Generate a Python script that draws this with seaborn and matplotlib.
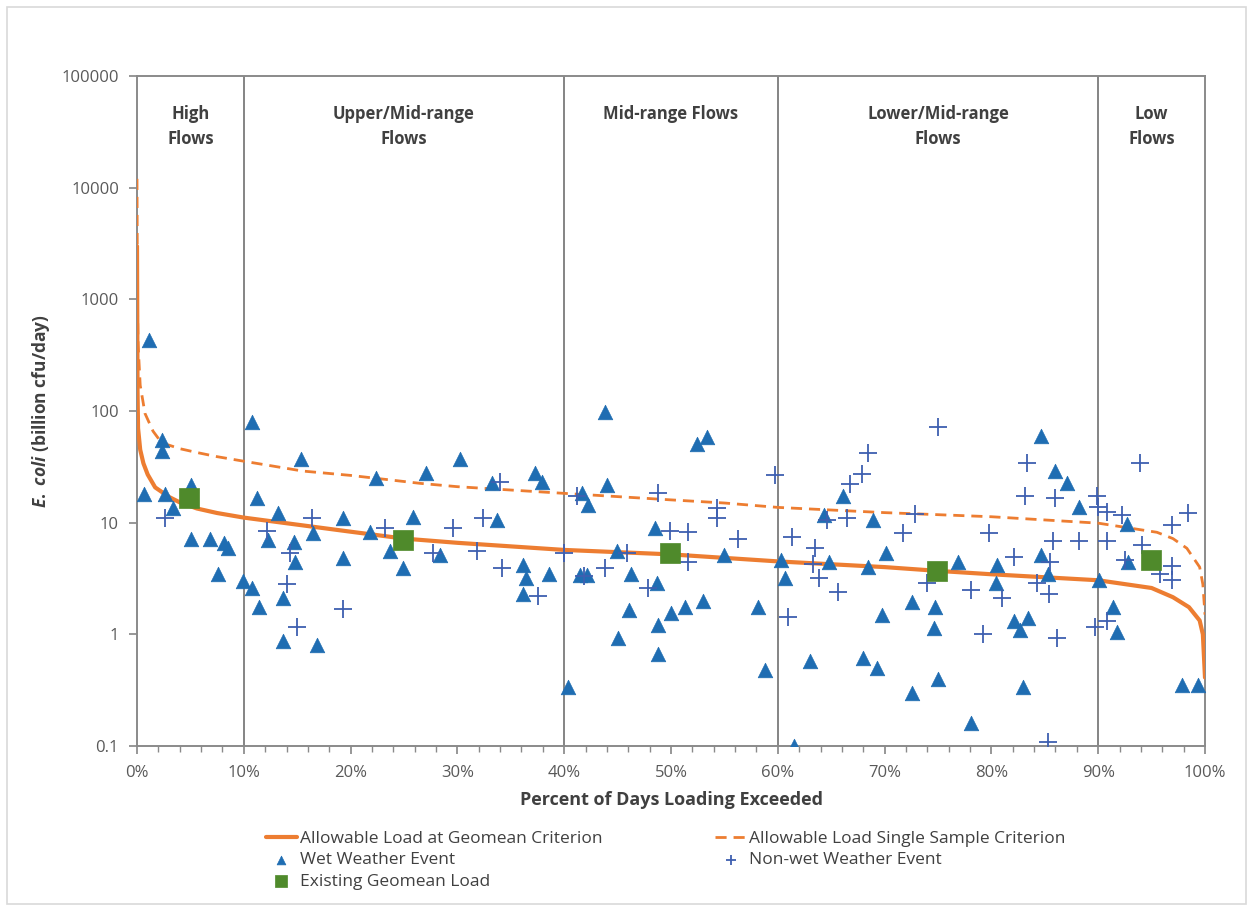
import numpy as np
import pandas as pd
import matplotlib
matplotlib.use("Agg")
import matplotlib.pyplot as plt
import seaborn as sns
from matplotlib.ticker import FixedLocator, FuncFormatter, MultipleLocator
from matplotlib.patches import Rectangle

# ---------------- data ----------------
curve_pct = [0.0, 0.05, 0.1, 0.3, 0.6, 1.0, 1.7, 3.0, 4.0, 5.6, 7.5, 10, 15, 20, 25, 30, 40, 50,
             60, 70, 75, 80, 90, 95, 97, 98.5, 99.5, 99.8, 100]
geomean_load = [3000, 150, 70, 45, 34, 27, 20.7, 17, 15.2, 13.4, 12.2, 11.1, 9.6, 8.3, 7.2, 6.6,
                5.7, 5.2, 4.5, 4.0, 3.7, 3.45, 3.05, 2.6, 2.15, 1.75, 1.33, 1.0, 0.41]
single_pct = [0.0, 0.05, 0.1, 0.3, 0.75, 1.5, 2.3, 4.0, 5.6, 7.5, 10, 15.5, 20, 26.5, 30, 40, 50,
              55, 60, 70, 80, 90, 95.5, 97, 98.3, 99.5, 99.8, 100]
single_load = [12000, 800, 400, 170, 95, 66, 52, 46, 42.5, 39, 35.5, 29, 26.5, 22.5, 21, 18.3, 16.0,
               15.0, 13.7, 12.3, 11.3, 9.9, 8.2, 7.2, 5.9, 4.0, 2.8, 1.5]

wet_pct = [1.1, 0.7, 2.3, 2.3, 2.6, 3.4, 5.1, 5.1, 6.8, 8.1, 8.5, 7.6, 9.9, 10.8, 11.4, 13.7,
           13.7, 16.9, 10.8, 11.2, 13.2, 12.3, 14.7, 14.8, 15.4, 16.5, 19.3, 19.3, 22.4, 21.8,
           23.7, 24.9, 25.8, 27.1,
           30.2, 28.4, 33.7, 33.2, 37.3, 37.9, 36.1, 36.4, 36.1, 38.6, 41.7, 42.2, 42.1, 41.5,
           43.8, 44.0, 44.9, 46.3, 40.4, 48.5, 48.7, 46.1, 45.0, 48.8, 48.8, 50.0, 51.3, 53.0,
           53.4, 52.4, 55.0,
           58.1, 58.8, 60.3, 60.7, 61.5, 63.0, 64.3, 64.8, 66.1, 68.4, 68.9, 68.0, 69.3, 69.8,
           70.1, 72.6, 72.6, 74.7, 74.6, 75.0, 76.9, 78.1, 80.5, 80.4,
           84.6, 86.0, 87.1, 88.2, 84.6, 85.3, 82.1, 83.4, 82.7, 83.0, 90.1, 91.4, 91.8, 92.7,
           92.8, 97.8, 99.3]
wet_val = [430, 18, 44, 55, 18, 13.5, 21.6, 7.2, 7.2, 6.6, 5.9, 3.5, 3.0, 2.6, 1.75, 2.1,
           0.88, 0.8, 79, 16.8, 12.1, 7.0, 6.7, 4.4, 37, 8.0, 11, 4.8, 25, 8.2,
           5.6, 3.9, 11.2, 27.6,
           37.5, 5.1, 10.5, 22.5, 28, 23, 4.2, 3.2, 2.3, 3.5, 18.3, 14.3, 3.4, 3.4,
           97, 21.6, 5.6, 3.5, 0.34, 8.9, 2.9, 1.64, 0.92, 1.2, 0.67, 1.54, 1.75, 2.0,
           58, 51, 5.1,
           1.75, 0.48, 4.6, 3.2, 0.1, 0.58, 11.6, 4.4, 17.5, 4.0, 10.5, 0.62, 0.5, 1.48,
           5.4, 1.93, 0.3, 1.75, 1.15, 0.4, 4.4, 0.16, 4.2, 2.9,
           60, 29, 22.5, 13.7, 5.1, 3.5, 1.33, 1.4, 1.1, 0.34, 3.05, 1.75, 1.05, 9.8,
           4.4, 0.35, 0.35]

dry_pct = [2.6, 12.2, 16.4, 14.3, 14.0, 15.0, 19.3, 23.2, 27.7,
           29.6, 32.4, 34.0, 31.8, 34.2, 37.5, 40.0, 41.2, 41.9, 43.8, 45.9, 48.8, 49.9, 51.6,
           51.6, 47.8, 54.3, 54.3,
           59.7, 56.3, 61.3, 61.0, 63.5, 63.3, 63.9, 64.6, 66.5, 65.6, 66.8, 67.9, 68.4, 71.7,
           72.8, 74.0, 75.0, 78.1, 79.2, 79.8,
           83.3, 83.1, 86.0, 85.8, 88.2, 82.1, 85.5, 84.3, 85.4, 81.0, 86.1, 85.3, 89.9, 90.0,
           90.8, 90.8, 92.2, 89.7, 90.8, 93.9, 94.1, 92.5, 96.9, 98.4, 95.8, 96.9, 96.9]
dry_val = [10.9, 8.5, 11.1, 5.4, 2.8, 1.16, 1.7, 8.9, 5.4,
           9.0, 11.1, 23, 5.6, 3.9, 2.2, 5.4, 17.5, 3.3, 3.9, 5.3, 18.3, 8.5, 8.2,
           4.4, 2.6, 13.4, 11,
           26.5, 7.2, 7.5, 1.42, 5.9, 4.3, 3.2, 10.5, 11, 2.4, 22, 27.5, 41.8, 8,
           12, 2.9, 71.5, 2.5, 1.0, 8,
           34.5, 17.5, 16.5, 6.9, 6.9, 4.9, 4.4, 2.9, 2.3, 2.1, 0.92, 0.108, 17.5, 13.7,
           12.4, 6.9, 11.6, 1.16, 1.33, 34.5, 6.3, 4.6, 9.5, 12.1, 3.5, 4.1, 3.05]

exist_pct = [4.9, 24.9, 49.9, 74.9, 94.9]
exist_val = [16.8, 7.0, 5.4, 3.7, 4.6]

region_breaks = [10, 40, 60, 90]
region_labels = ["High\nFlows", "Upper/Mid-range\nFlows", "Mid-range Flows",
                 "Lower/Mid-range\nFlows", "Low\nFlows"]
region_centers = [5, 25, 50, 75, 95]
y_ticks = [0.1, 1, 10, 100, 1000, 10000, 100000]
x_ticks = list(range(0, 101, 10))

# ---------------- style ----------------
sns.set_theme(style="white")
plt.rcParams['font.family'] = ['Open Sans', 'DejaVu Sans']
plt.rcParams['mathtext.fontset'] = 'custom'
plt.rcParams['mathtext.it'] = 'Open Sans:italic:bold'
plt.rcParams['mathtext.rm'] = 'Open Sans:bold'

ORANGE = "#ED7D31"
BLUE = "#1F6DB2"
NAVY = "#3E5FB0"
GREEN = "#4F8A2B"
TXT = "#404040"

fig = plt.figure(figsize=(12.5, 9.08), dpi=100)
ax = fig.add_axes([137/1250, 1-746/908, (1205-137)/1250, (746-76)/908])

df_g = pd.DataFrame({"pct": curve_pct, "val": geomean_load})
df_s = pd.DataFrame({"pct": single_pct, "val": single_load})
df_w = pd.DataFrame({"pct": wet_pct, "val": wet_val})
df_d = pd.DataFrame({"pct": dry_pct, "val": dry_val})
df_e = pd.DataFrame({"pct": exist_pct, "val": exist_val})

for xb in region_breaks:
    ax.axvline(xb, color="#6f6f6f", lw=1.2, zorder=1)

sns.lineplot(data=df_g, x="pct", y="val", ax=ax, color=ORANGE, lw=3, zorder=3,
             label="Allowable Load at Geomean Criterion", sort=False, estimator=None)
sns.scatterplot(data=df_w, x="pct", y="val", ax=ax, marker="^", s=110, color=BLUE,
                edgecolor=BLUE, linewidth=0.5, zorder=4, label="Wet Weather Event")
sns.scatterplot(data=df_e, x="pct", y="val", ax=ax, marker="s", s=200, color=GREEN,
                edgecolor=GREEN, linewidth=0.5, zorder=6, label="Existing Geomean Load")
sns.lineplot(data=df_s, x="pct", y="val", ax=ax, color=ORANGE, lw=2, ls=(0, (4, 2.5)), zorder=3,
             label="Allowable Load Single Sample Criterion", sort=False, estimator=None)
sns.scatterplot(data=df_d, x="pct", y="val", ax=ax, marker="+", s=150, color=NAVY,
                linewidth=1.3, zorder=5, label="Non-wet Weather Event")

ax.set_yscale("log")
ax.set_ylim(0.1, 100000)
ax.set_xlim(0, 100)
ax.yaxis.set_major_locator(FixedLocator(y_ticks))
ax.yaxis.set_minor_locator(FixedLocator([]))
ax.yaxis.set_major_formatter(FuncFormatter(lambda v, p: f"{v:g}" if v < 1 else f"{int(round(v))}"))
ax.xaxis.set_major_locator(FixedLocator(x_ticks))
ax.xaxis.set_minor_locator(MultipleLocator(2))
ax.xaxis.set_major_formatter(FuncFormatter(lambda v, p: f"{int(round(v))}%"))
ax.tick_params(axis="both", which="major", direction="out", length=6, color="#8a8a8a",
               labelsize=12, labelcolor="#595959", bottom=True, left=True)
ax.tick_params(axis="y", which="major", pad=7)
ax.tick_params(axis="x", which="major", pad=8)
ax.tick_params(axis="x", which="minor", direction="out", length=4, color="#8a8a8a", bottom=True)
for sp in ax.spines.values():
    sp.set_color("#8a8a8a")
    sp.set_linewidth(1.4)

ax.set_xlabel("Percent of Days Loading Exceeded", fontsize=13, fontweight="bold", color=TXT, labelpad=7)
ax.set_ylabel(r"$\mathit{E.\ coli}$ (billion cfu/day)", fontsize=12.5, fontweight="bold",
              color=TXT, labelpad=7)

for cx, lab in zip(region_centers, region_labels):
    ax.text(cx, 0.957, lab, transform=ax.get_xaxis_transform(), ha="center", va="top",
            fontsize=12, fontweight="bold", color=TXT, linespacing=1.5)

h, l = ax.get_legend_handles_labels()
order = ["Allowable Load at Geomean Criterion", "Wet Weather Event", "Existing Geomean Load",
         "Allowable Load Single Sample Criterion", "Non-wet Weather Event"]
hs = [h[l.index(o)] for o in order]
leg = ax.legend(hs, order, ncol=2, loc="upper left", bbox_to_anchor=(0.106, -0.103),
                frameon=False, fontsize=12.5, handlelength=1.8, columnspacing=6.5,
                labelspacing=0.3, handletextpad=0.15, markerscale=0.6)
for t in leg.get_texts():
    t.set_color(TXT)

fig.patches.append(Rectangle((7/1250, 1-904/908), 1239/1250, 897/908, transform=fig.transFigure,
                             fill=False, edgecolor="#d9d9d9", lw=1.2))

fig.savefig("out.png", dpi=100)
